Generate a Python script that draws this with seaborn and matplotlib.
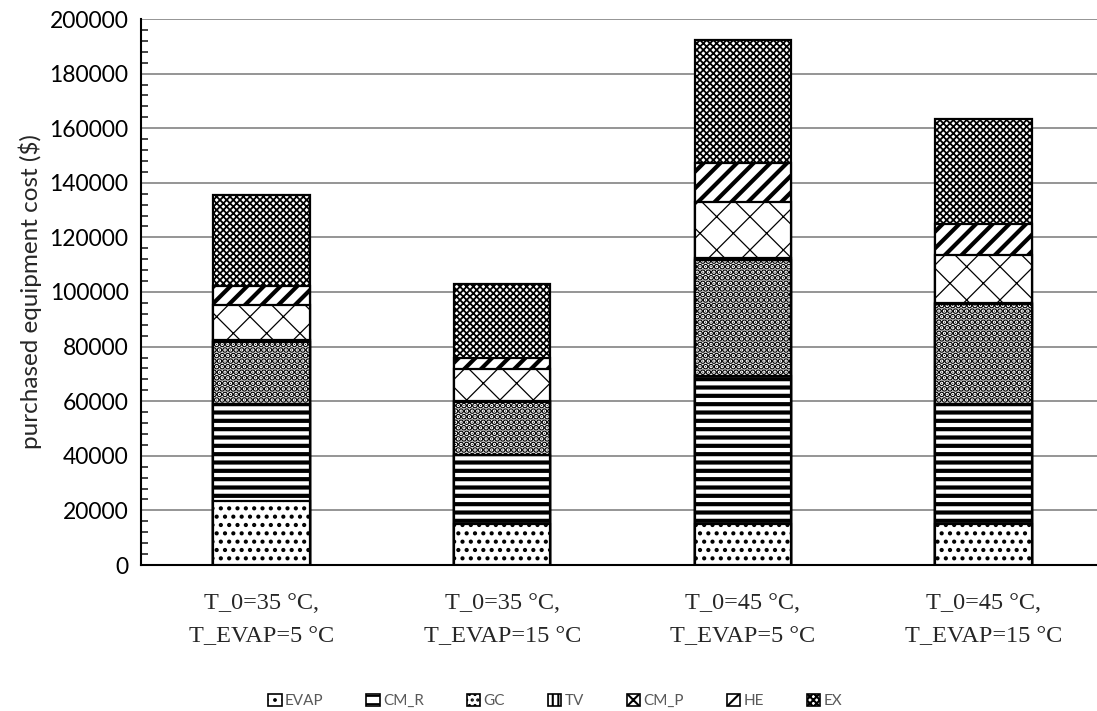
import pandas as pd
import matplotlib
matplotlib.use('Agg')
import matplotlib.pyplot as plt
import seaborn as sns
from matplotlib.patches import Patch
from matplotlib.ticker import MultipleLocator

# cenarios (eixo x) e componentes (pilha)
cenarios = ['T_0=35 °C,\nT_EVAP=5 °C', 'T_0=35 °C,\nT_EVAP=15 °C',
            'T_0=45 °C,\nT_EVAP=5 °C', 'T_0=45 °C,\nT_EVAP=15 °C']
componentes = ['EVAP', 'CM_R', 'GC', 'TV', 'CM_P', 'HE', 'EX']

# custo por componente ($)
evap = [23500, 15000, 15000, 15000]
cm_r = [35400, 25400, 54400, 44050]
gc = [22850, 19200, 42400, 36500]
tv = [500, 400, 600, 500]
cm_p = [13100, 11650, 20400, 17350]
he = [6800, 4300, 14450, 11550]
ex = [33200, 27000, 44900, 38450]

# hachuras de cada componente (preto e branco)
hachuras = {'EVAP': '..', 'CM_R': '--', 'GC': '...', 'TV': '|||',
            'CM_P': 'x', 'HE': '//', 'EX': 'xxxxx'}
espessura = {'EVAP': 1.8, 'CM_R': 3.0, 'GC': 3.2, 'TV': 1.5,
             'CM_P': 0.9, 'HE': 3.0, 'EX': 1.3}

valores = [evap, cm_r, gc, tv, cm_p, he, ex]
linhas = []
for i, cen in enumerate(cenarios):
    acumulado = 0
    for comp, serie in zip(componentes, valores):
        acumulado += serie[i]
        linhas.append({'cenario': cen, 'componente': comp, 'custo': serie[i], 'acumulado': acumulado})
df = pd.DataFrame(linhas)

sns.set_style('white')
plt.rcParams['hatch.linewidth'] = 1.5

fig = plt.figure(figsize=(10.97, 7.11), dpi=100)
ax = fig.add_axes([141 / 1097, 1 - 565 / 711, 963 / 1097, 546 / 711])

# barras empilhadas: desenha do topo para a base, cada barra cobre a anterior
for comp in reversed(componentes):
    n_antes = len(ax.patches)
    sub = df[df['componente'] == comp]
    sns.barplot(data=sub, x='cenario', y='acumulado', order=cenarios, color='white',
                edgecolor='black', linewidth=1.6, hatch=hachuras[comp], width=0.4,
                errorbar=None, ax=ax, zorder=3)
    for p in ax.patches[n_antes:]:
        p.set_facecolor('white')
        if hasattr(p, 'set_hatch_linewidth'):
            p.set_hatch_linewidth(espessura[comp])

ax.set_xlim(-0.5, 3.5)
ax.set_ylim(0, 200000)
ax.yaxis.set_major_locator(MultipleLocator(20000))
ax.yaxis.set_minor_locator(MultipleLocator(4000))
ax.grid(axis='y', color='#8c8c8c', linewidth=1.3, zorder=0)
ax.set_axisbelow(True)
for lado in ['top', 'right']:
    ax.spines[lado].set_visible(False)
for lado in ['left', 'bottom']:
    ax.spines[lado].set_color('black')
    ax.spines[lado].set_linewidth(1.5)

ax.tick_params(axis='y', which='major', direction='in', length=6, width=1.2,
               labelsize=16.5, pad=9, colors='black')
ax.tick_params(axis='y', which='minor', left=True, direction='in', length=5, width=1.2)
ax.tick_params(axis='x', length=0, pad=20)
for t in ax.get_yticklabels():
    t.set_fontfamily('Lato')
ax.set_xticks(range(len(cenarios)))
ax.set_xticklabels(cenarios, fontfamily='Liberation Serif', fontsize=17.5, linespacing=1.75)
ax.set_xlabel('')
ax.set_ylabel('purchased equipment cost ($)', fontfamily='Lato', fontsize=17.5, labelpad=5)

handles = [Patch(facecolor='white', edgecolor='black', hatch=hachuras[c], linewidth=1.2)
           for c in componentes]
leg = fig.legend(handles, componentes, loc='center', bbox_to_anchor=(555 / 1097, 1 - 701 / 711),
                 ncol=7, frameon=False, handlelength=0.9, handleheight=0.9,
                 handletextpad=0.2, columnspacing=2.8,
                 prop={'family': 'Lato', 'size': 11})
for t in leg.get_texts():
    t.set_color('#595959')

fig.savefig('out.png', dpi=100)
